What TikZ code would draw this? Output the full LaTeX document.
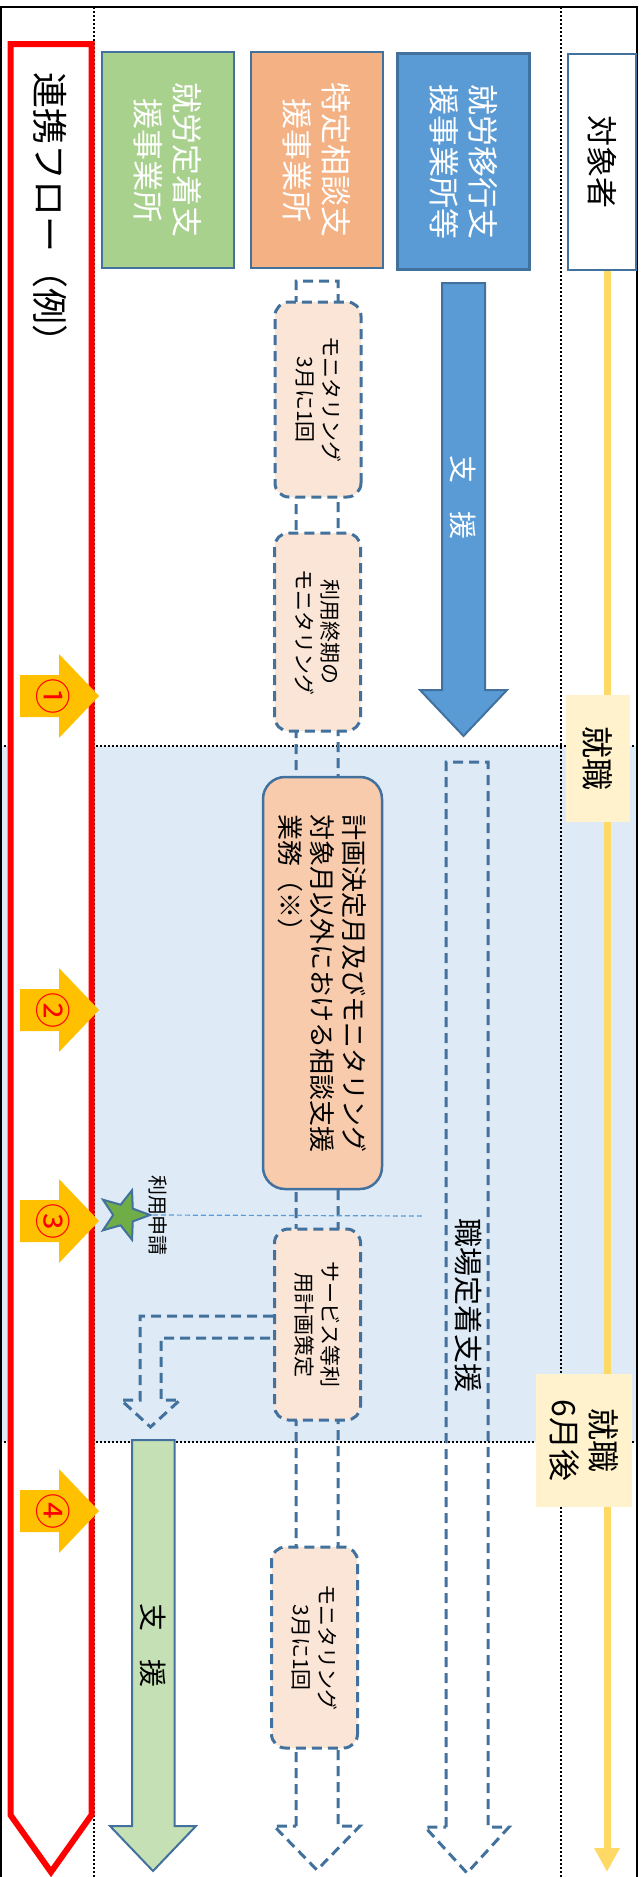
\documentclass[tikz,border=0pt]{standalone}
\usepackage{fontspec}
\setmainfont{Noto Sans CJK JP}
\usetikzlibrary{arrows.meta}
\usetikzlibrary{calc}
\usetikzlibrary{shapes.geometric}
\usepackage{xcolor}

\definecolor{lineblue}{HTML}{41719C}
\definecolor{ikoublue}{HTML}{5B9BD5}
\definecolor{teigreen}{HTML}{A9D18E}
\definecolor{soudanorange}{HTML}{F4B183}
\definecolor{monorange}{HTML}{FBE5D6}
\definecolor{keikakuorange}{HTML}{F8CBAD}
\definecolor{shiengreen}{HTML}{C5E0B4}
\definecolor{bgblue}{HTML}{DEEBF7}
\definecolor{shokuyellow}{HTML}{FFF2CC}
\definecolor{lineyellow}{HTML}{FFD966}
\definecolor{markgold}{HTML}{FFC000}
\definecolor{stargreen}{HTML}{70AD47}

\tikzset{
  topbox/.style={draw=lineblue, line width=2.5pt, rotate=-90, align=center, inner sep=0pt,
    minimum width=216pt, minimum height=132pt, text=white, font=\fontsize{31}{39}\selectfont},
  monbox/.style={draw=lineblue, line width=3pt, dash pattern=on 10pt off 6pt, rounded corners=14pt,
    fill=monorange, rotate=-90, align=center, inner sep=0pt, minimum height=86pt,
    font=\fontsize{21}{26}\selectfont},
  dashflow/.style={draw=lineblue, line width=3pt, dash pattern=on 10pt off 6pt},
  shokubox/.style={fill=shokuyellow, rotate=-90, align=center, inner sep=0pt,
    font=\fontsize{32}{39}\selectfont},
  dotline/.style={line width=2pt, dash pattern=on 2pt off 2pt},
  vtext/.style={rotate=-90, inner sep=0pt}
}

\begin{document}
\begin{tikzpicture}[x=1pt,y=-1pt]
  \useasboundingbox (0,0) rectangle (642,1877);

  % Band after employment
  \fill[bgblue] (0,746) rectangle (637,1442);

  % Dotted guides
  \draw[dotline] (93.6,7) -- (93.6,1877);
  \draw[dotline] (561,7) -- (561,1877);
  \draw[dotline] (0,746) -- (637,746);
  \draw[dotline] (0,1442) -- (637,1442);

  % Frame
  \draw[line width=2pt] (1,1880) -- (1,7) -- (637,7) -- (637,1880);

  % Flow banner
  \draw[red, line width=6pt, fill=white] (10.5,44) -- (91.5,44) -- (91.5,1815) -- (51,1872) -- (10.5,1815) -- cycle;
  \node[vtext, anchor=west, font=\fontsize{36}{40}\selectfont] (flow) at (50,72) {連携フロー（例）};

  % Step markers
  \foreach \y/\n [count=\i] in {696/①,1010/②,1221/③,1511/④}
  {
    \fill[markgold] (20,\y-21) -- (59,\y-21) -- (59,\y-42) -- (99,\y) -- (59,\y+42) -- (59,\y+21) -- (20,\y+21) -- cycle;
    \node[vtext, text=red, font=\fontsize{36}{36}\selectfont] (mark\i) at (53,\y) {\n};
  }

  % Offices
  \node[topbox, fill=teigreen] (teichaku) at (168,160) {就労定着支\\援事業所};
  \node[topbox, fill=soudanorange] (soudan) at (317,160) {特定相談支\\援事業所};
  \node[topbox, fill=ikoublue] (ikou) at (463.5,161.5) {就労移行支\\援事業所等};
  \node[topbox, fill=white, text=black, minimum height=68pt] (taisho) at (602,162) {対象者};

  % Person line
  \coordinate (lineend) at (607,1872);
  \draw[lineyellow, line width=7pt, -{Triangle[length=24pt,width=24pt]}] (taisho.east -| lineend) -- (lineend);
  \node[shokubox, minimum width=127pt, minimum height=64pt] (shushoku) at (598,758.5) {就職};
  \node[shokubox, minimum width=133pt, minimum height=96pt] (shushoku6) at (584,1440.5) {就職\\6月後};

  % Transition support
  \draw[lineblue, line width=2pt, fill=ikoublue] (442,283) -- (485,283) -- (485,690) -- (507,690) -- (463.5,736) -- (420,690) -- (442,690) -- cycle;
  \node[vtext, text=white, font=\fontsize{28}{28}\selectfont] (ikoushien) at (463.5,497) {支　援};

  % Workplace retention
  \draw[dashflow] (446,1827) -- (446,762) -- (488,762) -- (488,1827) -- (509,1827) -- (467,1873) -- (425,1827) -- cycle;
  \node[vtext, font=\fontsize{29}{29}\selectfont] (teichakushien) at (468,1305) {職場定着支援};

  % Consultation support
  \draw[dashflow] (296,1826) -- (296,281) -- (338,281) -- (338,1826) -- (360,1826) -- (317,1870) -- (274,1826) -- cycle;
  \node[monbox, minimum width=195pt] (mon1) at (318,399.5) {モニタリング\\3月に1回};
  \node[monbox, minimum width=198pt] (mon2) at (317.5,632) {利用終期の\\モニタリング};
  \node[draw=lineblue, line width=2.5pt, rounded corners=22pt, fill=keikakuorange, rotate=-90, align=left,
    inner sep=0pt, minimum width=412pt, minimum height=119pt, font=\fontsize{26}{32}\selectfont]
    (keikaku) at (322.5,983) {計画決定月及びモニタリング\\対象月以外における相談支援\\業務（※）};
  \node[monbox, minimum width=191pt] (service) at (317.5,1324.5) {サービス等利\\用計画策定};
  \node[monbox, minimum width=201pt] (mon3) at (314.5,1647.5) {モニタリング\\3月に1回};

  % Hand over to retention office
  \draw[dashflow] ($(service.south)+(0,-8.5)$) -- (140,1316) -- (140,1400) -- (121,1400) -- (150.5,1427)
    -- (180,1400) -- (161,1400) -- (161,1338) -- ($(service.south)+(0,13.5)$);

  % Retention support
  \draw[lineblue, line width=2pt, fill=shiengreen] (132,1440) -- (174.5,1440) -- (174.5,1826) -- (196,1826) -- (153,1871) -- (110,1826) -- (132,1826) -- cycle;
  \node[vtext, font=\fontsize{28}{28}\selectfont] (teishien) at (153,1645) {支　援};

  % Application
  \node[star, star points=5, star point ratio=2.4, minimum size=52pt, inner sep=0pt, rotate=-90,
    fill=stargreen, draw=lineblue, line width=2pt] (apply) at (124,1215) {};
  \node[vtext, font=\fontsize{20}{20}\selectfont] (applytext) at (158,1215) {利用申請};
  \coordinate (applyend) at (423,1216);
  \draw[ikoublue, line width=1.2pt, dash pattern=on 5pt off 3pt] (apply.outer point 1) -- (applyend);

\end{tikzpicture}
\end{document}
